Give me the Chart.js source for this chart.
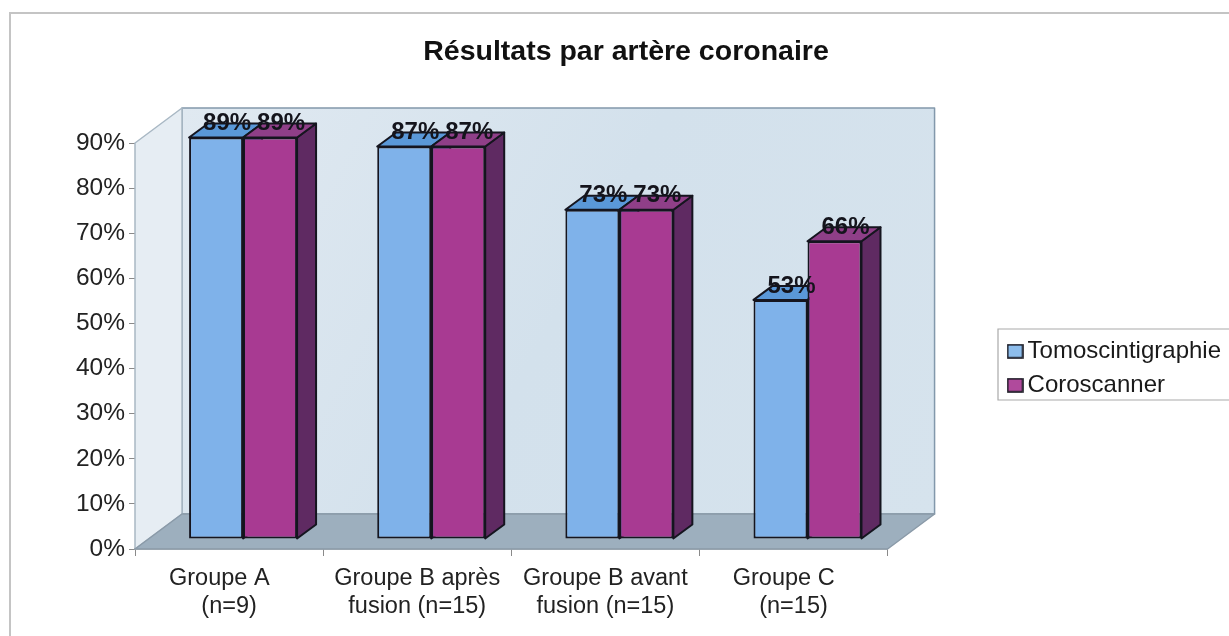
<!DOCTYPE html>
<html lang="fr">
<head>
<meta charset="utf-8">
<title>Résultats par artère coronaire</title>
<script src="https://cdn.jsdelivr.net/npm/chart.js@4"></script>
<style>
  html, body { margin: 0; padding: 0; background: #fff; }
  #wrap { width: 1229px; height: 636px; }
</style>
</head>
<body>
<div id="wrap"><canvas id="resultsChart" width="1229" height="636"></canvas></div>
<script>
const categories = [['Groupe A   ', '(n=9)'], ['Groupe B après', 'fusion (n=15)'], ['Groupe B avant', 'fusion (n=15)'], ['Groupe C   ', '(n=15)']];
const tomoValues = [89, 87, 73, 53];
const coroValues = [89, 87, 73, 66];
const seriesNames = ['Tomoscintigraphie', 'Coroscanner'];

const fontName = '"Liberation Sans", Arial, sans-serif';
const ink = '#15151f';

// depth of the fake 3D box and of the bars
const wallDx = 47, wallDy = 35;
const barShiftX = 14, barShiftY = 10;
const barDx = 19, barDy = 14;

function shape(ctx, pts, fill, stroke) {
  ctx.beginPath();
  pts.forEach((p, i) => i ? ctx.lineTo(p[0], p[1]) : ctx.moveTo(p[0], p[1]));
  ctx.closePath();
  ctx.fillStyle = fill;
  ctx.fill();
  if (stroke) {
    ctx.strokeStyle = stroke;
    ctx.lineWidth = stroke === ink ? 2 : 1.5;
    ctx.lineJoin = 'round';
    ctx.stroke();
  }
}

// small swatch used as legend marker
function swatch(color) {
  const c = document.createElement('canvas');
  c.width = 17; c.height = 15;
  const g = c.getContext('2d');
  g.fillStyle = color;
  g.fillRect(1, 1, 15, 13);
  g.strokeStyle = ink;
  g.lineWidth = 1.6;
  g.strokeRect(1, 1, 15, 13);
  return c;
}

const box3d = {
  id: 'box3d',
  beforeDraw(chart) {
    const ctx = chart.ctx;
    // outer frame and legend frame
    ctx.save();
    ctx.strokeStyle = '#c4c4c4';
    ctx.lineWidth = 2;
    ctx.beginPath();
    ctx.moveTo(10, 636); ctx.lineTo(10, 13); ctx.lineTo(1229, 13);
    ctx.stroke();
    ctx.strokeStyle = '#a9a9a9';
    ctx.lineWidth = 1.2;
    ctx.beginPath();
    ctx.moveTo(1229, 329); ctx.lineTo(998, 329); ctx.lineTo(998, 400); ctx.lineTo(1229, 400);
    ctx.stroke();
    ctx.restore();
  },
  beforeDatasetsDraw(chart) {
    const ctx = chart.ctx;
    const a = chart.chartArea;
    const yT = chart.scales.y.getPixelForValue(90), yB = chart.scales.y.getPixelForValue(0);
    ctx.save();
    const wall = ctx.createLinearGradient(a.left + wallDx, yT - wallDy, a.right + wallDx, yB - wallDy);
    wall.addColorStop(0, '#e0e9f1');
    wall.addColorStop(0.5, '#d3e1ec');
    wall.addColorStop(1, '#d6e3ed');
    shape(ctx, [[a.left + wallDx, yT - wallDy], [a.right + wallDx, yT - wallDy], [a.right + wallDx, yB - wallDy], [a.left + wallDx, yB - wallDy]], wall, '#8298ab');
    shape(ctx, [[a.left, yT], [a.left + wallDx, yT - wallDy], [a.left + wallDx, yB - wallDy], [a.left, yB]], '#e6edf3', '#a9b8c4');
    shape(ctx, [[a.left, yB], [a.left + wallDx, yB - wallDy], [a.right + wallDx, yB - wallDy], [a.right, yB]], '#9dafbe', '#8a9aa8');

    // side and top faces of the bars, from the bar elements
    chart.data.datasets.forEach((ds, i) => {
      chart.getDatasetMeta(i).data.forEach(bar => {
        const l = bar.x - bar.width / 2 + barShiftX, r = bar.x + bar.width / 2 + barShiftX;
        const t = bar.y - barShiftY, b = bar.base - barShiftY;
        shape(ctx, [[r, t], [r + barDx, t - barDy], [r + barDx, b - barDy], [r, b]], ds.sideColor, ink);
        shape(ctx, [[l, t], [l + barDx, t - barDy], [r + barDx, t - barDy], [r, t]], ds.topColor, ink);
      });
    });
    // the real bars are drawn on the bar plane, a little behind the axis plane
    ctx.translate(barShiftX, -barShiftY);
  },
  afterDatasetsDraw(chart) {
    const ctx = chart.ctx;
    ctx.restore();
    ctx.save();
    ctx.font = 'bold 24px ' + fontName;
    ctx.fillStyle = '#14141c';
    ctx.textAlign = 'center';
    ctx.textBaseline = 'middle';
    chart.data.datasets.forEach((ds, i) => {
      chart.getDatasetMeta(i).data.forEach((bar, j) => {
        ctx.fillText(ds.data[j] + '%', bar.x + barShiftX + 11, bar.y - barShiftY - 14);
      });
    });
    ctx.restore();
  }
};

const ctx = document.getElementById('resultsChart').getContext('2d');

new Chart(ctx, {
  type: 'bar',
  data: {
    labels: categories,
    datasets: [
      {
        label: seriesNames[0],
        data: tomoValues,
        backgroundColor: '#7fb2ea',
        borderColor: ink,
        borderWidth: 2,
        borderSkipped: false,
        sideColor: '#4d7fb8',
        topColor: '#5a98d8',
        pointStyle: swatch('#8dbdec'),
        clip: false
      },
      {
        label: seriesNames[1],
        data: coroValues,
        backgroundColor: '#a83a92',
        borderColor: ink,
        borderWidth: 2,
        borderSkipped: false,
        sideColor: '#5f2a62',
        topColor: '#8f3f88',
        pointStyle: swatch('#b04a9c'),
        clip: false
      }
    ]
  },
  options: {
    responsive: false,
    animation: false,
    categoryPercentage: 0.574,
    barPercentage: 1,
    layout: { padding: { left: 21, right: -2, top: 0, bottom: 0 } },
    plugins: {
      tooltip: { enabled: false },
      title: {
        display: true,
        text: 'Résultats par artère coronaire',
        color: '#111',
        font: { family: fontName, size: 28.5, weight: 'bold' },
        padding: { top: 35, bottom: 73.8 }
      },
      legend: {
        position: 'right',
        align: 'start',
        maxWidth: 300,
        title: { display: true, text: '', font: { size: 1 }, padding: { top: 328, bottom: 0 } },
        labels: {
          color: '#1a1a1a',
          font: { family: fontName, size: 24 },
          usePointStyle: true,
          pointStyleWidth: 1,
          boxHeight: 15,
          padding: 10
        }
      }
    },
    scales: {
      x: {
        offset: true,
        border: { color: '#8a8a8a', width: 1.5 },
        grid: { display: true, drawOnChartArea: false, tickLength: 7, tickColor: '#8a8a8a' },
        ticks: {
          color: '#222',
          font: { family: fontName, size: 23.5, lineHeight: 1.19 },
          padding: 9,
          maxRotation: 0,
          autoSkip: false
        },
        afterFit(scale) { scale.height = 87; }
      },
      y: {
        min: 0,
        max: 90,
        border: { display: false },
        grid: { display: true, drawOnChartArea: false, tickLength: 6, tickColor: '#8a8a8a' },
        ticks: {
          stepSize: 10,
          color: '#222',
          font: { family: fontName, size: 24.5 },
          padding: 4,
          callback: v => v + '%'
        },
        afterFit(scale) { scale.width = 114; }
      },
      // empty axis, only keeps the gap between the plot and the legend
      gap: {
        position: 'right',
        axis: 'y',
        display: true,
        border: { display: false },
        grid: { display: false },
        ticks: { display: false },
        afterFit(scale) { scale.width = 117; }
      }
    }
  },
  plugins: [box3d]
});
</script>
</body>
</html>
